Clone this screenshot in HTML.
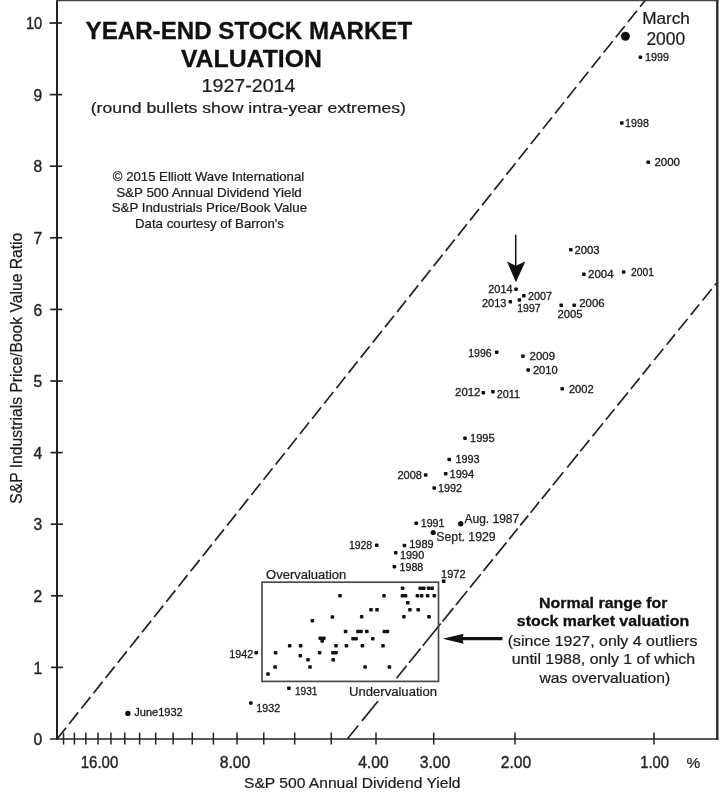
<!DOCTYPE html>
<html><head><meta charset="utf-8"><title>Year-End Stock Market Valuation</title>
<style>
html,body{margin:0;padding:0;background:#fff;}
body{width:720px;height:793px;overflow:hidden;font-family:"Liberation Sans",sans-serif;}
svg{display:block;font-family:"Liberation Sans",sans-serif;filter:blur(0.45px);}
text{fill:#1c1c1c;stroke:#1c1c1c;stroke-width:0.22px;}
.b{font-weight:bold;fill:#111;stroke:#111;stroke-width:0.3px;}
.lab{font-size:11px;fill:#1a1a1a;stroke:#1a1a1a;stroke-width:0.3px;}
.lab12{font-size:12px;fill:#222;stroke:#222;stroke-width:0.25px;}
.tick{font-size:15.6px;fill:#262626;stroke:#262626;stroke-width:0.4px;}
</style></head><body>
<svg width="720" height="793" viewBox="0 0 720 793">
<rect x="0" y="0" width="720" height="793" fill="#ffffff"/>

<g stroke="#222" fill="none">
<line x1="57.0" y1="0" x2="57.0" y2="739.8" stroke-width="2"/>
<line x1="56.0" y1="0.6" x2="718.3" y2="0.6" stroke-width="1.4" stroke="#444"/>
<line x1="717.3" y1="0" x2="717.3" y2="739.8" stroke-width="2.4" stroke="#2a2a2a"/>
<line x1="50.0" y1="739.0" x2="718.3" y2="739.0" stroke-width="1.7"/>
<line x1="51.12" y1="667.40" x2="63.08" y2="667.40" stroke-width="1.7"/>
<line x1="50.94" y1="595.80" x2="62.96" y2="595.80" stroke-width="1.7"/>
<line x1="50.76" y1="524.20" x2="62.84" y2="524.20" stroke-width="1.7"/>
<line x1="50.58" y1="452.60" x2="62.72" y2="452.60" stroke-width="1.7"/>
<line x1="50.40" y1="381.00" x2="62.60" y2="381.00" stroke-width="1.7"/>
<line x1="50.22" y1="309.40" x2="62.48" y2="309.40" stroke-width="1.7"/>
<line x1="50.04" y1="237.80" x2="62.36" y2="237.80" stroke-width="1.7"/>
<line x1="49.86" y1="166.20" x2="62.24" y2="166.20" stroke-width="1.7"/>
<line x1="49.68" y1="94.60" x2="62.12" y2="94.60" stroke-width="1.7"/>
<line x1="49.50" y1="23.00" x2="62.00" y2="23.00" stroke-width="1.7"/>
<line x1="654.00" y1="732.6" x2="654.00" y2="744.6" stroke-width="1.5"/>
<line x1="515.00" y1="732.6" x2="515.00" y2="744.6" stroke-width="1.5"/>
<line x1="433.69" y1="732.6" x2="433.69" y2="744.6" stroke-width="1.5"/>
<line x1="376.00" y1="732.6" x2="376.00" y2="744.6" stroke-width="1.5"/>
<line x1="331.25" y1="732.6" x2="331.25" y2="744.6" stroke-width="1.5"/>
<line x1="294.69" y1="732.6" x2="294.69" y2="744.6" stroke-width="1.5"/>
<line x1="263.78" y1="732.6" x2="263.78" y2="744.6" stroke-width="1.5"/>
<line x1="237.00" y1="732.6" x2="237.00" y2="744.6" stroke-width="1.5"/>
<line x1="213.38" y1="732.6" x2="213.38" y2="744.6" stroke-width="1.5"/>
<line x1="192.25" y1="732.6" x2="192.25" y2="744.6" stroke-width="1.5"/>
<line x1="173.14" y1="732.6" x2="173.14" y2="744.6" stroke-width="1.5"/>
<line x1="155.69" y1="732.6" x2="155.69" y2="744.6" stroke-width="1.5"/>
<line x1="139.64" y1="732.6" x2="139.64" y2="744.6" stroke-width="1.5"/>
<line x1="124.78" y1="732.6" x2="124.78" y2="744.6" stroke-width="1.5"/>
<line x1="110.94" y1="732.6" x2="110.94" y2="744.6" stroke-width="1.5"/>
<line x1="98.00" y1="732.6" x2="98.00" y2="744.6" stroke-width="1.5"/>
<line x1="85.84" y1="732.6" x2="85.84" y2="744.6" stroke-width="1.5"/>
<line x1="74.38" y1="732.6" x2="74.38" y2="744.6" stroke-width="1.5"/>
<line x1="63.54" y1="732.6" x2="63.54" y2="744.6" stroke-width="1.5"/>
</g>
<g stroke="#222" stroke-width="1.7" fill="none">
<line x1="57" y1="739" x2="645.5" y2="0" stroke-dasharray="14.5 5.0"/>
<line x1="347.30" y1="739.00" x2="358.30" y2="725.42"/>
<line x1="362.00" y1="720.85" x2="379.50" y2="699.24"/>
<line x1="396.50" y1="678.25" x2="406.60" y2="665.78"/>
<line x1="409.00" y1="662.82" x2="420.60" y2="648.50"/>
<line x1="422.80" y1="645.78" x2="440.80" y2="623.56"/>
<line x1="442.50" y1="621.46" x2="453.30" y2="608.12"/>
<line x1="455.80" y1="605.04" x2="467.20" y2="590.96"/>
<line x1="470.00" y1="587.50" x2="480.80" y2="574.17"/>
<line x1="483.30" y1="571.08" x2="492.80" y2="559.35"/>
<line x1="495.80" y1="555.65" x2="506.50" y2="542.44"/>
<line x1="509.20" y1="539.10" x2="517.80" y2="528.48"/>
<line x1="520.30" y1="525.40" x2="528.20" y2="515.64"/>
<line x1="530.50" y1="512.80" x2="539.20" y2="502.06"/>
<line x1="541.80" y1="498.85" x2="550.20" y2="488.48"/>
<line x1="552.80" y1="485.27" x2="563.30" y2="472.30"/>
<line x1="567.20" y1="467.49" x2="578.00" y2="454.15"/>
<line x1="580.30" y1="451.31" x2="589.40" y2="440.08"/>
<line x1="592.50" y1="436.25" x2="603.00" y2="423.29"/>
<line x1="605.80" y1="419.83" x2="614.40" y2="409.21"/>
<line x1="617.50" y1="405.38" x2="628.00" y2="392.42"/>
<line x1="630.80" y1="388.96" x2="639.60" y2="378.10"/>
<line x1="642.60" y1="374.39" x2="650.80" y2="364.27"/>
<line x1="654.20" y1="360.07" x2="663.30" y2="348.83"/>
<line x1="666.60" y1="344.76" x2="675.00" y2="334.39"/>
<line x1="678.30" y1="330.31" x2="687.50" y2="318.96"/>
<line x1="690.80" y1="314.88" x2="699.20" y2="304.51"/>
<line x1="702.50" y1="300.43" x2="711.70" y2="289.08"/>
<line x1="714.80" y1="285.25" x2="716.40" y2="283.27"/>
</g>
<text class="tick" x="42.2" y="745.1" text-anchor="end">0</text>
<text class="tick" x="42.2" y="673.5" text-anchor="end">1</text>
<text class="tick" x="42.2" y="601.9" text-anchor="end">2</text>
<text class="tick" x="42.2" y="530.3" text-anchor="end">3</text>
<text class="tick" x="42.2" y="458.7" text-anchor="end">4</text>
<text class="tick" x="42.2" y="387.1" text-anchor="end">5</text>
<text class="tick" x="42.2" y="315.5" text-anchor="end">6</text>
<text class="tick" x="42.2" y="243.9" text-anchor="end">7</text>
<text class="tick" x="42.2" y="172.3" text-anchor="end">8</text>
<text class="tick" x="42.2" y="100.7" text-anchor="end">9</text>
<text class="tick" x="42.2" y="29.1" text-anchor="end" textLength="16.3" lengthAdjust="spacingAndGlyphs">10</text>
<text class="tick" x="99.5" y="768.4" text-anchor="middle" textLength="37.5" lengthAdjust="spacingAndGlyphs">16.00</text>
<text class="tick" x="235.0" y="768.4" text-anchor="middle">8.00</text>
<text class="tick" x="373.4" y="768.4" text-anchor="middle">4.00</text>
<text class="tick" x="435" y="768.4" text-anchor="middle">3.00</text>
<text class="tick" x="516.0" y="768.4" text-anchor="middle">2.00</text>
<text class="tick" x="654.6" y="768.4" text-anchor="middle" textLength="28.7" lengthAdjust="spacingAndGlyphs">1.00</text>
<text x="686.4" y="768.2" style="font-size:15.4px" fill="#484848" stroke="none">%</text>
<text x="352.3" y="787.9" font-size="14.8" text-anchor="middle" textLength="216.5" lengthAdjust="spacingAndGlyphs">S&amp;P 500 Annual Dividend Yield</text>
<text transform="translate(21.9,368.2) rotate(-90)" font-size="15.6" text-anchor="middle" textLength="271" lengthAdjust="spacingAndGlyphs">S&amp;P Industrials Price/Book Value Ratio</text>
<text class="b" x="248.9" y="38.7" font-size="23.8" text-anchor="middle" textLength="326.6" lengthAdjust="spacingAndGlyphs">YEAR-END STOCK MARKET</text>
<text class="b" x="251.4" y="66.8" font-size="23.8" text-anchor="middle" textLength="141" lengthAdjust="spacingAndGlyphs">VALUATION</text>
<text x="248.5" y="92.3" font-size="18" text-anchor="middle" textLength="93.8" lengthAdjust="spacingAndGlyphs">1927-2014</text>
<text x="248.3" y="113.1" font-size="15.4" text-anchor="middle" textLength="315.2" lengthAdjust="spacingAndGlyphs">(round bullets show intra-year extremes)</text>
<text x="208.5" y="180.6" font-size="12.2" fill="#333" text-anchor="middle" textLength="191.3" lengthAdjust="spacingAndGlyphs">© 2015 Elliott Wave International</text>
<text x="209.0" y="196.6" font-size="12.2" fill="#333" text-anchor="middle" textLength="185.6" lengthAdjust="spacingAndGlyphs">S&amp;P 500 Annual Dividend Yield</text>
<text x="209.4" y="212.0" font-size="12.2" fill="#333" text-anchor="middle" textLength="195.5" lengthAdjust="spacingAndGlyphs">S&amp;P Industrials Price/Book Value</text>
<text x="209.5" y="227.8" font-size="12.2" fill="#333" text-anchor="middle" textLength="149.0" lengthAdjust="spacingAndGlyphs">Data courtesy of Barron's</text>
<text x="666" y="23.6" font-size="16" text-anchor="middle" textLength="47.7" lengthAdjust="spacingAndGlyphs">March</text>
<text x="665.8" y="45.2" font-size="17.6" text-anchor="middle" textLength="38.8" lengthAdjust="spacingAndGlyphs">2000</text>
<circle cx="625.4" cy="36.3" r="4.5" fill="#111"/>
<g fill="#111">
<rect x="638.6" y="55.4" width="3.6" height="3.5" rx="0.8"/>
<rect x="620.0" y="121.2" width="3.6" height="3.5" rx="0.8"/>
<rect x="646.4" y="160.4" width="3.6" height="3.5" rx="0.8"/>
<rect x="569.0" y="247.9" width="3.6" height="3.5" rx="0.8"/>
<rect x="582.1" y="272.6" width="3.6" height="3.5" rx="0.8"/>
<rect x="621.8" y="270.2" width="3.6" height="3.5" rx="0.8"/>
<rect x="514.2" y="287.4" width="3.6" height="3.5" rx="0.8"/>
<rect x="522.0" y="294.1" width="3.6" height="3.5" rx="0.8"/>
<rect x="508.5" y="300.1" width="3.6" height="3.5" rx="0.8"/>
<rect x="517.6" y="298.2" width="3.6" height="3.5" rx="0.8"/>
<rect x="559.4" y="303.6" width="3.6" height="3.5" rx="0.8"/>
<rect x="572.4" y="303.6" width="3.6" height="3.5" rx="0.8"/>
<rect x="494.9" y="350.4" width="3.6" height="3.5" rx="0.8"/>
<rect x="521.1" y="354.4" width="3.6" height="3.5" rx="0.8"/>
<rect x="526.4" y="368.2" width="3.6" height="3.5" rx="0.8"/>
<rect x="481.5" y="390.9" width="3.6" height="3.5" rx="0.8"/>
<rect x="491.1" y="389.9" width="3.6" height="3.5" rx="0.8"/>
<rect x="560.4" y="387.1" width="3.6" height="3.5" rx="0.8"/>
<rect x="463.2" y="436.4" width="3.6" height="3.5" rx="0.8"/>
<rect x="447.4" y="457.8" width="3.6" height="3.5" rx="0.8"/>
<rect x="443.9" y="471.9" width="3.6" height="3.5" rx="0.8"/>
<rect x="423.9" y="473.2" width="3.6" height="3.5" rx="0.8"/>
<rect x="432.4" y="486.2" width="3.6" height="3.5" rx="0.8"/>
<rect x="414.4" y="521.5" width="3.6" height="3.5" rx="0.8"/>
<rect x="374.9" y="543.6" width="3.6" height="3.5" rx="0.8"/>
<rect x="402.6" y="543.8" width="3.6" height="3.5" rx="0.8"/>
<rect x="393.9" y="551.0" width="3.6" height="3.5" rx="0.8"/>
<rect x="392.6" y="564.9" width="3.6" height="3.5" rx="0.8"/>
<rect x="441.9" y="579.5" width="3.6" height="3.5" rx="0.8"/>
<rect x="254.4" y="651.0" width="3.6" height="3.5" rx="0.8"/>
<rect x="287.1" y="686.5" width="3.6" height="3.5" rx="0.8"/>
<rect x="249.0" y="701.2" width="3.6" height="3.5" rx="0.8"/>
</g>
<text class="lab" x="645.0" y="61.1" textLength="24.0" lengthAdjust="spacingAndGlyphs">1999</text>
<text class="lab" x="625.1" y="126.7" textLength="23.8" lengthAdjust="spacingAndGlyphs">1998</text>
<text class="lab" x="654.4" y="166.2" textLength="25.6" lengthAdjust="spacingAndGlyphs">2000</text>
<text class="lab" x="574.4" y="253.7" textLength="25.3" lengthAdjust="spacingAndGlyphs">2003</text>
<text class="lab" x="588.0" y="278.4" textLength="25.6" lengthAdjust="spacingAndGlyphs">2004</text>
<text class="lab" x="631.0" y="276.0" textLength="23.0" lengthAdjust="spacingAndGlyphs">2001</text>
<text class="lab" x="488.3" y="293.0" textLength="24.2" lengthAdjust="spacingAndGlyphs">2014</text>
<text class="lab" x="528.0" y="299.8" textLength="24.0" lengthAdjust="spacingAndGlyphs">2007</text>
<text class="lab" x="482.0" y="307.0" textLength="24.5" lengthAdjust="spacingAndGlyphs">2013</text>
<text class="lab" x="517.3" y="312.2" textLength="23.2" lengthAdjust="spacingAndGlyphs">1997</text>
<text class="lab" x="557.5" y="318.4" textLength="25.0" lengthAdjust="spacingAndGlyphs">2005</text>
<text class="lab" x="579.2" y="306.5" textLength="25.5" lengthAdjust="spacingAndGlyphs">2006</text>
<text class="lab" x="468.2" y="356.7" textLength="23.4" lengthAdjust="spacingAndGlyphs">1996</text>
<text class="lab" x="529.6" y="360.2" textLength="25.5" lengthAdjust="spacingAndGlyphs">2009</text>
<text class="lab" x="532.9" y="374.0" textLength="24.9" lengthAdjust="spacingAndGlyphs">2010</text>
<text class="lab" x="455.1" y="396.3" textLength="25.3" lengthAdjust="spacingAndGlyphs">2012</text>
<text class="lab" x="496.7" y="398.0" textLength="23.3" lengthAdjust="spacingAndGlyphs">2011</text>
<text class="lab" x="568.9" y="393.0" textLength="24.9" lengthAdjust="spacingAndGlyphs">2002</text>
<text class="lab" x="470.0" y="441.6" textLength="24.7" lengthAdjust="spacingAndGlyphs">1995</text>
<text class="lab" x="455.5" y="463.2" textLength="24.0" lengthAdjust="spacingAndGlyphs">1993</text>
<text class="lab" x="449.5" y="477.5" textLength="24.7" lengthAdjust="spacingAndGlyphs">1994</text>
<text class="lab" x="397.5" y="479.0" textLength="24.5" lengthAdjust="spacingAndGlyphs">2008</text>
<text class="lab" x="438.0" y="492.0" textLength="24.0" lengthAdjust="spacingAndGlyphs">1992</text>
<text class="lab" x="420.7" y="527.0" textLength="23.8" lengthAdjust="spacingAndGlyphs">1991</text>
<text class="lab" x="348.9" y="549.4" textLength="23.3" lengthAdjust="spacingAndGlyphs">1928</text>
<text class="lab" x="409.3" y="548.3" textLength="24.3" lengthAdjust="spacingAndGlyphs">1989</text>
<text class="lab" x="400.0" y="559.4" textLength="24.2" lengthAdjust="spacingAndGlyphs">1990</text>
<text class="lab" x="399.6" y="571.4" textLength="23.7" lengthAdjust="spacingAndGlyphs">1988</text>
<text class="lab" x="441.1" y="577.8" textLength="24.5" lengthAdjust="spacingAndGlyphs">1972</text>
<text class="lab" x="229.3" y="657.6" textLength="24.0" lengthAdjust="spacingAndGlyphs">1942</text>
<text class="lab" x="295.0" y="694.7" textLength="22.4" lengthAdjust="spacingAndGlyphs">1931</text>
<text class="lab" x="256.3" y="712.3" textLength="23.9" lengthAdjust="spacingAndGlyphs">1932</text>
<circle cx="460.7" cy="523.7" r="2.7" fill="#111"/>
<text class="lab12" x="464.5" y="523" textLength="54.7" lengthAdjust="spacingAndGlyphs">Aug. 1987</text>
<circle cx="433.2" cy="532.5" r="2.6" fill="#111"/>
<text class="lab12" x="436.3" y="541.3" textLength="59.4" lengthAdjust="spacingAndGlyphs">Sept. 1929</text>
<circle cx="127.9" cy="713.4" r="2.7" fill="#111"/>
<text class="lab" x="134.3" y="716.4" textLength="48.4" lengthAdjust="spacingAndGlyphs">June1932</text>
<rect x="262" y="582.2" width="176.5" height="99.2" fill="none" stroke="#4a4a4a" stroke-width="1.7"/>
<text x="266.1" y="578.9" font-size="12.2" fill="#484848" stroke="none" textLength="80.2" lengthAdjust="spacingAndGlyphs">Overvaluation</text>
<rect x="346" y="683.2" width="93" height="18" fill="#fff"/>
<text x="349" y="696.4" font-size="12.2" fill="#484848" stroke="none" textLength="88" lengthAdjust="spacingAndGlyphs">Undervaluation</text>
<g fill="#111">
<rect x="338.2" y="593.9" width="3.6" height="3.5" rx="0.8"/>
<rect x="330.6" y="615.2" width="3.6" height="3.5" rx="0.8"/>
<rect x="310.6" y="619.0" width="3.6" height="3.5" rx="0.8"/>
<rect x="343.8" y="629.8" width="3.6" height="3.5" rx="0.8"/>
<rect x="318.5" y="636.5" width="3.6" height="3.5" rx="0.8"/>
<rect x="322.0" y="636.5" width="3.6" height="3.5" rx="0.8"/>
<rect x="320.4" y="639.2" width="3.6" height="3.5" rx="0.8"/>
<rect x="351.2" y="636.9" width="3.6" height="3.5" rx="0.8"/>
<rect x="354.2" y="636.9" width="3.6" height="3.5" rx="0.8"/>
<rect x="287.9" y="644.0" width="3.6" height="3.5" rx="0.8"/>
<rect x="298.8" y="644.0" width="3.6" height="3.5" rx="0.8"/>
<rect x="334.2" y="644.0" width="3.6" height="3.5" rx="0.8"/>
<rect x="344.6" y="644.0" width="3.6" height="3.5" rx="0.8"/>
<rect x="273.8" y="651.0" width="3.6" height="3.5" rx="0.8"/>
<rect x="317.8" y="651.0" width="3.6" height="3.5" rx="0.8"/>
<rect x="331.2" y="651.0" width="3.6" height="3.5" rx="0.8"/>
<rect x="334.2" y="651.0" width="3.6" height="3.5" rx="0.8"/>
<rect x="298.5" y="653.9" width="3.6" height="3.5" rx="0.8"/>
<rect x="306.2" y="658.0" width="3.6" height="3.5" rx="0.8"/>
<rect x="331.4" y="658.0" width="3.6" height="3.5" rx="0.8"/>
<rect x="273.3" y="665.2" width="3.6" height="3.5" rx="0.8"/>
<rect x="308.2" y="665.2" width="3.6" height="3.5" rx="0.8"/>
<rect x="266.2" y="672.2" width="3.6" height="3.5" rx="0.8"/>
<rect x="400.8" y="586.5" width="3.6" height="3.5" rx="0.8"/>
<rect x="418.5" y="586.5" width="3.6" height="3.5" rx="0.8"/>
<rect x="421.9" y="586.5" width="3.6" height="3.5" rx="0.8"/>
<rect x="426.9" y="586.5" width="3.6" height="3.5" rx="0.8"/>
<rect x="430.3" y="586.5" width="3.6" height="3.5" rx="0.8"/>
<rect x="382.2" y="593.9" width="3.6" height="3.5" rx="0.8"/>
<rect x="400.7" y="593.9" width="3.6" height="3.5" rx="0.8"/>
<rect x="403.7" y="593.9" width="3.6" height="3.5" rx="0.8"/>
<rect x="415.6" y="593.9" width="3.6" height="3.5" rx="0.8"/>
<rect x="419.8" y="593.9" width="3.6" height="3.5" rx="0.8"/>
<rect x="425.8" y="593.9" width="3.6" height="3.5" rx="0.8"/>
<rect x="432.5" y="593.9" width="3.6" height="3.5" rx="0.8"/>
<rect x="406.0" y="601.0" width="3.6" height="3.5" rx="0.8"/>
<rect x="369.2" y="608.0" width="3.6" height="3.5" rx="0.8"/>
<rect x="375.2" y="608.0" width="3.6" height="3.5" rx="0.8"/>
<rect x="408.1" y="608.0" width="3.6" height="3.5" rx="0.8"/>
<rect x="416.4" y="608.0" width="3.6" height="3.5" rx="0.8"/>
<rect x="359.9" y="615.0" width="3.6" height="3.5" rx="0.8"/>
<rect x="402.1" y="615.0" width="3.6" height="3.5" rx="0.8"/>
<rect x="427.2" y="615.0" width="3.6" height="3.5" rx="0.8"/>
<rect x="356.2" y="629.8" width="3.6" height="3.5" rx="0.8"/>
<rect x="359.2" y="629.8" width="3.6" height="3.5" rx="0.8"/>
<rect x="365.0" y="629.8" width="3.6" height="3.5" rx="0.8"/>
<rect x="382.6" y="629.8" width="3.6" height="3.5" rx="0.8"/>
<rect x="385.6" y="629.8" width="3.6" height="3.5" rx="0.8"/>
<rect x="371.0" y="636.9" width="3.6" height="3.5" rx="0.8"/>
<rect x="360.6" y="644.0" width="3.6" height="3.5" rx="0.8"/>
<rect x="381.2" y="644.0" width="3.6" height="3.5" rx="0.8"/>
<rect x="363.3" y="665.2" width="3.6" height="3.5" rx="0.8"/>
<rect x="387.6" y="665.2" width="3.6" height="3.5" rx="0.8"/>
</g>
<line x1="515.7" y1="234.7" x2="515.7" y2="266" stroke="#111" stroke-width="1.5"/>
<path d="M507 261.6 L515.8 265.8 L525.3 261.6 L515.9 282.3 Z" fill="#111"/>
<line x1="462" y1="638.6" x2="502.4" y2="638.6" stroke="#111" stroke-width="3.4"/>
<path d="M442.8 638.7 L463.6 633.8 L462.3 638.7 L463.6 643.7 Z" fill="#111"/>
<text class="b" x="603.3" y="608.3" font-size="15" text-anchor="middle" textLength="128.4" lengthAdjust="spacingAndGlyphs">Normal range for</text>
<text class="b" x="603" y="626.2" font-size="15" text-anchor="middle" textLength="172.4" lengthAdjust="spacingAndGlyphs">stock market valuation</text>
<text x="602.6" y="645.8" font-size="15" text-anchor="middle" textLength="189.6" lengthAdjust="spacingAndGlyphs">(since 1927, only 4 outliers</text>
<text x="603.4" y="664" font-size="15" text-anchor="middle" textLength="183.4" lengthAdjust="spacingAndGlyphs">until 1988, only 1 of which</text>
<text x="604.8" y="682.6" font-size="15" text-anchor="middle" textLength="130.6" lengthAdjust="spacingAndGlyphs">was overvaluation)</text>
</svg></body></html>
